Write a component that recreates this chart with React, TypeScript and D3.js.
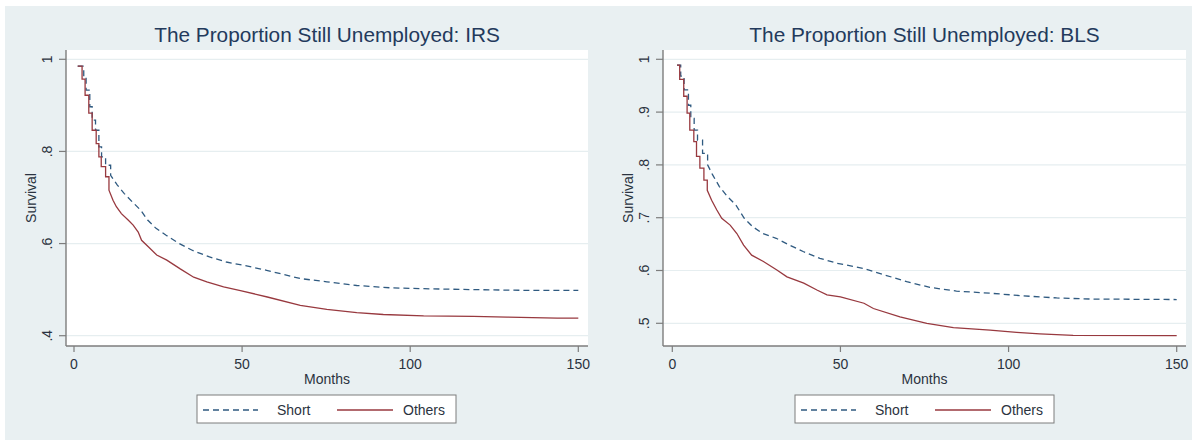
import React from "react";
import * as d3 from "d3";

// ---------- DATA ----------
const xTicks = [0, 50, 100, 150];
const xTickLabels = ["0", "50", "100", "150"];

const irsYTicks = [0.4, 0.6, 0.8, 1];
const irsYTickLabels = [".4", ".6", ".8", "1"];
const blsYTicks = [0.5, 0.6, 0.7, 0.8, 0.9, 1];
const blsYTickLabels = [".5", ".6", ".7", ".8", ".9", "1"];

const seriesNames = ["Short", "Others"];

const irsShortMonths = [1.1, 2.9, 3.6, 4.7, 5.4, 6.4, 7.4, 8.2, 9.4, 10.9, 12.9, 14.9, 17.4, 19.9, 21.9, 24.4, 27.4, 31.3, 35.3, 40.3, 45.3, 50.3, 57.3, 67.3, 75.2, 84.1, 94, 104, 118.8, 133.7, 150];
const irsShortSurv = [0.985, 0.962, 0.933, 0.897, 0.868, 0.846, 0.81, 0.788, 0.77, 0.748, 0.727, 0.709, 0.69, 0.672, 0.651, 0.633, 0.618, 0.6, 0.585, 0.571, 0.56, 0.553, 0.542, 0.524, 0.517, 0.509, 0.504, 0.502, 0.5, 0.4985, 0.4985];

const irsOthersMonths = [1.1, 2.4, 3.3, 4.4, 5.4, 6.6, 7.4, 8.1, 9.4, 10.4, 11.6, 12.6, 14.1, 16.1, 17.6, 19.1, 20.1, 22.1, 24.6, 27.6, 31.6, 35.6, 39.5, 44.5, 49.5, 57.5, 67.3, 75.2, 84.1, 92, 104, 118.8, 128.8, 143.7, 150];
const irsOthersSurv = [0.985, 0.957, 0.922, 0.883, 0.846, 0.817, 0.788, 0.767, 0.745, 0.716, 0.694, 0.68, 0.665, 0.651, 0.64, 0.625, 0.607, 0.593, 0.575, 0.564, 0.545, 0.527, 0.517, 0.506, 0.498, 0.484, 0.466, 0.457, 0.45, 0.446, 0.443, 0.442, 0.4405, 0.438, 0.438];

const blsShortMonths = [1.4, 2.5, 3.5, 4.8, 5.5, 6.5, 7.5, 9, 10.5, 12, 14, 16.4, 18.9, 21.4, 23.9, 26.9, 30.9, 34.9, 38.9, 43.9, 48.8, 56.8, 59.8, 69.7, 76.6, 84.5, 94.5, 104.4, 114.3, 124.2, 150];
const blsShortSurv = [0.989, 0.968, 0.942, 0.913, 0.888, 0.866, 0.847, 0.822, 0.8, 0.781, 0.759, 0.74, 0.724, 0.699, 0.683, 0.67, 0.661, 0.648, 0.636, 0.623, 0.614, 0.604, 0.598, 0.579, 0.568, 0.561, 0.557, 0.552, 0.548, 0.546, 0.545];

const blsOthersMonths = [1.4, 2.2, 3.4, 4.4, 5.2, 6.4, 7.2, 8.2, 9.4, 10.4, 11.7, 13.2, 14.7, 17.2, 19.2, 21.2, 23.6, 27.1, 31.1, 34.1, 39.1, 43, 46, 50, 57, 59.8, 67.7, 75.7, 83.6, 94.5, 102.4, 109.3, 119.2, 150];
const blsOthersSurv = [0.989, 0.962, 0.93, 0.898, 0.866, 0.844, 0.816, 0.794, 0.771, 0.752, 0.733, 0.715, 0.699, 0.686, 0.67, 0.648, 0.629, 0.617, 0.601, 0.588, 0.576, 0.563, 0.554, 0.55, 0.538, 0.528, 0.512, 0.5, 0.492, 0.487, 0.483, 0.48, 0.477, 0.4765];

// ---------- STYLE ----------
const FONT = "'Liberation Sans', Arial, Helvetica, sans-serif";
const BG = "#e9f0f2";
const GRID = "#e6eef0";
const AXIS = "#7d7d7d";
const TEXT = "#2b3340";
const TITLE = "#233a5c";
const BLUE = "#2f5a80";
const RED = "#98393f";
const STEP_LIMIT = 10;

type Pt = { m: number; v: number };

function zip(ms: number[], vs: number[]): Pt[] {
  return ms.map((m, i) => ({ m, v: vs[i] }));
}

function survivalPath(pts: Pt[], x: d3.ScaleLinear<number, number>, y: d3.ScaleLinear<number, number>) {
  const idx = pts.findIndex((p) => p.m >= STEP_LIMIT);
  const early = pts.slice(0, idx + 1);
  const late = pts.slice(idx);
  const stepLine = d3.line<Pt>().x((d) => x(d.m)).y((d) => y(d.v)).curve(d3.curveStepAfter);
  const linLine = d3.line<Pt>().x((d) => x(d.m)).y((d) => y(d.v)).curve(d3.curveLinear);
  const a = stepLine(early) || "";
  const b = linLine(late) || "";
  return a + b.replace(/^M/, "L");
}

type PanelProps = {
  title: string;
  plot: { x0: number; x1: number; y0: number; y1: number };
  xRange: [number, number];
  yDomain: [number, number];
  yRange: [number, number];
  yTicks: number[];
  yLabels: string[];
  short: Pt[];
  others: Pt[];
  legendX: number;
};

function Panel(p: PanelProps) {
  const x = d3.scaleLinear().domain([0, 150]).range(p.xRange);
  const y = d3.scaleLinear().domain(p.yDomain).range(p.yRange);
  const { x0, x1, y0, y1 } = p.plot;
  const cx = (x0 + x1) / 2;
  const cy = (y0 + y1) / 2;
  const lx = p.legendX;
  const ly = 395;
  return (
    <g>
      <rect x={x0} y={y0} width={x1 - x0} height={y1 - y0} fill="#ffffff" />
      {p.yTicks.map((t) => (
        <line key={"g" + t} x1={x0} x2={x1} y1={y(t)} y2={y(t)} stroke={GRID} strokeWidth={1.2} />
      ))}
      <path d={survivalPath(p.short, x, y)} fill="none" stroke={BLUE} strokeWidth={1.3} strokeDasharray="6,4" />
      <path d={survivalPath(p.others, x, y)} fill="none" stroke={RED} strokeWidth={1.3} />
      {/* axes */}
      <line x1={x0} x2={x0} y1={y0} y2={y1} stroke={AXIS} strokeWidth={1.4} />
      <line x1={x0} x2={x1} y1={y1} y2={y1} stroke={AXIS} strokeWidth={1.4} />
      {p.yTicks.map((t, i) => (
        <g key={"y" + t}>
          <line x1={x0 - 7} x2={x0} y1={y(t)} y2={y(t)} stroke={AXIS} strokeWidth={1.2} />
          <text
            transform={`translate(${x0 - 14},${y(t)}) rotate(-90)`}
            textAnchor="middle"
            fontFamily={FONT}
            fontSize={14}
            fill={TEXT}
          >
            {p.yLabels[i]}
          </text>
        </g>
      ))}
      {xTicks.map((t, i) => (
        <g key={"x" + t}>
          <line x1={x(t)} x2={x(t)} y1={y1} y2={y1 + 6} stroke={AXIS} strokeWidth={1.2} />
          <text x={x(t)} y={369} textAnchor="middle" fontFamily={FONT} fontSize={14} fill={TEXT}>
            {xTickLabels[i]}
          </text>
        </g>
      ))}
      <text x={cx} y={384} textAnchor="middle" fontFamily={FONT} fontSize={14} fill={TEXT}>
        Months
      </text>
      <text
        transform={`translate(${x0 - 30},${cy}) rotate(-90)`}
        textAnchor="middle"
        fontFamily={FONT}
        fontSize={14}
        fill={TEXT}
      >
        Survival
      </text>
      <text x={cx} y={42} textAnchor="middle" fontFamily={FONT} fontSize={20.8} fill={TITLE}>
        {p.title}
      </text>
      {/* legend */}
      <rect x={lx} y={ly} width={259} height={28} fill="#ffffff" stroke={AXIS} strokeWidth={1} />
      <line x1={lx + 6} x2={lx + 61} y1={ly + 15} y2={ly + 15} stroke={BLUE} strokeWidth={1.3} strokeDasharray="6,4" />
      <text x={lx + 80} y={ly + 20} fontFamily={FONT} fontSize={14} fill={TEXT}>
        {seriesNames[0]}
      </text>
      <line x1={lx + 140} x2={lx + 196} y1={ly + 15} y2={ly + 15} stroke={RED} strokeWidth={1.3} />
      <text x={lx + 206} y={ly + 20} fontFamily={FONT} fontSize={14} fill={TEXT}>
        {seriesNames[1]}
      </text>
    </g>
  );
}

export default function App() {
  return (
    <svg
      width={1192}
      height={440}
      style={{ position: "absolute", left: 0, top: 0, display: "block" }}
    >
      <rect x={0} y={0} width={1192} height={440} fill="#ffffff" />
      <rect x={5} y={6} width={1187} height={434} fill={BG} />
      <Panel
        title="The Proportion Still Unemployed: IRS"
        plot={{ x0: 66, x1: 588, y0: 50, y1: 346 }}
        xRange={[74, 578.3]}
        yDomain={[0.4, 1]}
        yRange={[335.7, 59.3]}
        yTicks={irsYTicks}
        yLabels={irsYTickLabels}
        short={zip(irsShortMonths, irsShortSurv)}
        others={zip(irsOthersMonths, irsOthersSurv)}
        legendX={197}
      />
      <Panel
        title="The Proportion Still Unemployed: BLS"
        plot={{ x0: 663, x1: 1186, y0: 50, y1: 346 }}
        xRange={[672.3, 1176.7]}
        yDomain={[0.5, 1]}
        yRange={[323.3, 59.3]}
        yTicks={blsYTicks}
        yLabels={blsYTickLabels}
        short={zip(blsShortMonths, blsShortSurv)}
        others={zip(blsOthersMonths, blsOthersSurv)}
        legendX={795}
      />
    </svg>
  );
}
